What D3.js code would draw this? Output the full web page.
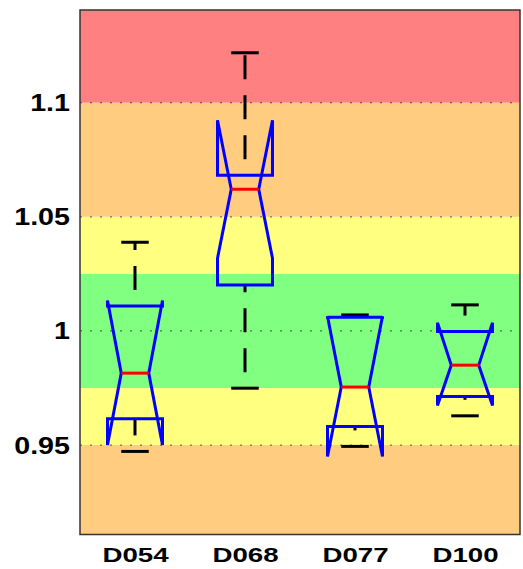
<!DOCTYPE html>
<html>
<head>
<meta charset="utf-8">
<script src="https://cdn.jsdelivr.net/npm/d3@7"></script>
<style>
  html, body { margin: 0; padding: 0; background: #fff; }
  svg { display: block; }
</style>
</head>
<body>
<svg id="chart" width="523" height="569"></svg>
<script>
// ---- data ----
const categories = ["D054", "D068", "D077", "D100"];
const lowerWhisker = [0.9472, 0.9749, 0.9494, 0.9628];
const q1Values     = [0.9615, 1.0201, 0.9581, 0.9713];
const medians      = [0.9815, 1.0621, 0.9754, 0.9850];
const q3Values     = [1.0109, 1.0682, 1.0060, 0.9997];
const upperWhisker = [1.0388, 1.1219, 1.0070, 1.0114];
const notchLow     = [0.9500, 1.0318, 0.9450, 0.9673];
const notchHigh    = [1.0133, 1.0923, 1.0064, 1.0036];

const yTicks = [0.95, 1, 1.05, 1.1];
const yTickLabels = ["0.95", "1", "1.05", "1.1"];

// background bands: [from, to]
const bandFrom   = [0.90, 0.95, 0.975, 1.025, 1.05, 1.10];
const bandTo     = [0.95, 0.975, 1.025, 1.05, 1.10, 1.20];
const bandColors = ["#FFCC80", "#FFFF80", "#80FF80", "#FFFF80", "#FFCC80", "#FF8080"];

const yDomain = [0.9108, 1.1406];
const boxWidth = 0.5;

(function () {
// ---- layout ----
const svg = d3.select("#chart");
const pLeft = 80, pRight = 520, pTop = 10, pBottom = 534.5;

const x = d3.scaleLinear().domain([0.5, categories.length + 0.5]).range([pLeft, pRight]);
const y = d3.scaleLinear().domain(yDomain).range([pBottom, pTop]);

const defs = svg.append("defs");
defs.append("clipPath").attr("id", "plotclip")
  .append("rect").attr("x", pLeft).attr("y", pTop)
  .attr("width", pRight - pLeft).attr("height", pBottom - pTop);

const plot = svg.append("g").attr("clip-path", "url(#plotclip)");

// bands
plot.selectAll("rect.band")
  .data(bandColors.map((c, i) => ({c, a: bandFrom[i], b: bandTo[i]})))
  .join("rect")
  .attr("class", "band")
  .attr("x", pLeft)
  .attr("width", pRight - pLeft)
  .attr("y", d => y(Math.min(d.b, yDomain[1])))
  .attr("height", d => y(Math.max(d.a, yDomain[0])) - y(Math.min(d.b, yDomain[1])))
  .attr("fill", d => d.c);

// gridlines
plot.selectAll("line.grid")
  .data(yTicks)
  .join("line")
  .attr("class", "grid")
  .attr("x1", pLeft).attr("x2", pRight)
  .attr("y1", d => y(d)).attr("y2", d => y(d))
  .attr("stroke", "rgba(0,0,0,0.5)")
  .attr("stroke-width", 1.2)
  .attr("stroke-dasharray", "2,8");

const boxes = categories.map((c, i) => ({
  i: i + 1,
  lw: lowerWhisker[i], q1: q1Values[i], med: medians[i], q3: q3Values[i],
  uw: upperWhisker[i], nlo: notchLow[i], nhi: notchHigh[i]
}));

const lw = 3;

// whiskers (dashed)
const g = plot.append("g");
boxes.forEach(b => {
  const cx = x(b.i);
  g.append("line")
    .attr("x1", cx).attr("x2", cx)
    .attr("y1", y(b.q3)).attr("y2", y(b.uw))
    .attr("stroke", "#000").attr("stroke-width", lw)
    .attr("stroke-dasharray", "24,16").attr("stroke-dashoffset", 24);
  g.append("line")
    .attr("x1", cx).attr("x2", cx)
    .attr("y1", y(b.lw)).attr("y2", y(b.q1))
    .attr("stroke", "#000").attr("stroke-width", lw)
    .attr("stroke-dasharray", "24,16").attr("stroke-dashoffset", 24);
  // caps
  const capHalf = (x(b.i + boxWidth / 4) - cx);
  [b.uw, b.lw].forEach(v => {
    g.append("line")
      .attr("x1", cx - capHalf).attr("x2", cx + capHalf)
      .attr("y1", y(v)).attr("y2", y(v))
      .attr("stroke", "#000").attr("stroke-width", lw);
  });
});

// notched boxes
boxes.forEach(b => {
  const xl = x(b.i - boxWidth / 2), xr = x(b.i + boxWidth / 2);
  const nl = x(b.i - boxWidth / 4), nr = x(b.i + boxWidth / 4);
  const pts = [
    [xl, y(b.q1)], [xl, y(b.nlo)], [nl, y(b.med)], [xl, y(b.nhi)], [xl, y(b.q3)],
    [xr, y(b.q3)], [xr, y(b.nhi)], [nr, y(b.med)], [xr, y(b.nlo)], [xr, y(b.q1)]
  ];
  g.append("path")
    .attr("d", d3.line()(pts) + "Z")
    .attr("fill", "none")
    .attr("stroke", "#0000FF")
    .attr("stroke-width", lw)
    .attr("stroke-linejoin", "miter");
  g.append("line")
    .attr("x1", nl).attr("x2", nr)
    .attr("y1", y(b.med)).attr("y2", y(b.med))
    .attr("stroke", "#FF0000").attr("stroke-width", lw);
});

// frame
svg.append("rect")
  .attr("x", pLeft).attr("y", pTop)
  .attr("width", pRight - pLeft).attr("height", pBottom - pTop)
  .attr("fill", "none").attr("stroke", "#333").attr("stroke-width", 1.5);

// axes
const sy = 1.22;
const yAxis = d3.axisLeft(y).tickValues(yTicks)
  .tickFormat((d, i) => yTickLabels[i]).tickSize(0).tickPadding(10);
const yg = svg.append("g").attr("transform", `translate(${pLeft},0)`).call(yAxis);
yg.select(".domain").remove();
yg.selectAll("text")
  .attr("x", -10 / sy)
  .attr("dy", "0.34em")
  .attr("transform", `scale(${sy},1)`)
  .attr("fill", "#000")
  .style("font-family", "'Liberation Sans', Arial, sans-serif")
  .style("font-weight", "bold")
  .style("font-size", "23.5px");

const sx = 1.35;
const xAxis = d3.axisBottom(x).tickValues(categories.map((c, i) => i + 1))
  .tickFormat((d, i) => categories[i]).tickSize(0);
const xg = svg.append("g").attr("transform", `translate(0,${pBottom})`).call(xAxis);
xg.select(".domain").remove();
xg.selectAll("text")
  .attr("y", 13)
  .attr("dy", "0.71em")
  .attr("transform", `scale(${sx},1)`)
  .attr("x", 0)
  .attr("fill", "#000")
  .style("font-family", "'Liberation Sans', Arial, sans-serif")
  .style("font-weight", "bold")
  .style("font-size", "20.5px");
})();
</script>
</body>
</html>
